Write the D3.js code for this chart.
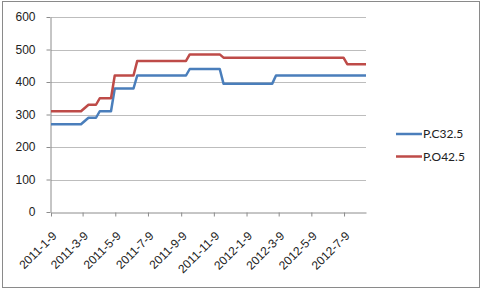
<!DOCTYPE html>
<html>
<head>
<meta charset="utf-8">
<script src="https://cdn.jsdelivr.net/npm/d3@7"></script>
<style>
  html, body { margin: 0; padding: 0; background: #fff; }
  svg { display: block; font-family: Lato, "Liberation Sans", sans-serif; }
  .grid line { stroke: #bdbdbd; stroke-width: 1; }
  .axis path, .axis line { stroke: #8c8c8c; }
  .axis text { fill: #222; font-size: 12px; }
  .series { fill: none; stroke-width: 2.5; stroke-linejoin: round; }
  .legend text { font-size: 12px; fill: #222; }
</style>
</head>
<body>
<svg id="chart" width="483" height="291"></svg>
<script>
(function () {
  "use strict";

  // dates where the price changes (corner points of the step lines)
  var dates = [
    "2011-1-9", "2011-3-6", "2011-3-20", "2011-4-3", "2011-4-10",
    "2011-5-1", "2011-5-8", "2011-6-12", "2011-6-19", "2011-9-18",
    "2011-9-25", "2011-11-20", "2011-11-27", "2012-2-26", "2012-3-4",
    "2012-7-8", "2012-7-15", "2012-8-19"
  ];
  var pc325 = [270, 270, 290, 290, 310, 310, 380, 380, 420, 420,
               440, 440, 395, 395, 420, 420, 420, 420];
  var po425 = [310, 310, 330, 330, 350, 350, 420, 420, 465, 465,
               485, 485, 475, 475, 475, 475, 455, 455];
  var seriesNames = ["P.C32.5", "P.O42.5"];
  var seriesColors = ["#4a7ebb", "#be4b48"];
  var tickLabels = [
    "2011-1-9", "2011-3-9", "2011-5-9", "2011-7-9", "2011-9-9",
    "2011-11-9", "2012-1-9", "2012-3-9", "2012-5-9", "2012-7-9"
  ];
  var yTicks = [0, 100, 200, 300, 400, 500, 600];

  var parse = d3.timeParse("%Y-%-m-%-d");
  var fmt = d3.timeFormat("%Y-%-m-%-d");

  var svg = d3.select("#chart");

  // chart area border
  svg.append("rect")
      .attr("x", 2.5)
      .attr("y", 1.5)
      .attr("width", 477)
      .attr("height", 286)
      .attr("fill", "#fff")
      .attr("stroke", "#8a8a8a");

  var x = d3.scaleTime()
      .domain([parse(dates[0]), parse(dates[dates.length - 1])])
      .range([51, 366]);
  var y = d3.scaleLinear()
      .domain([0, 600])
      .range([212, 17]);

  // horizontal gridlines
  svg.append("g")
      .attr("class", "grid")
    .selectAll("line")
      .data(yTicks.filter(function (d) { return d > 0; }))
    .enter().append("line")
      .attr("x1", x.range()[0])
      .attr("x2", x.range()[1])
      .attr("y1", function (d) { return Math.round(y(d)) + 0.5; })
      .attr("y2", function (d) { return Math.round(y(d)) + 0.5; });

  // y axis
  svg.append("g")
      .attr("class", "axis")
      .attr("transform", "translate(" + (x.range()[0] - 0.5) + ",0)")
      .call(d3.axisLeft(y).tickValues(yTicks).tickSize(4).tickSizeOuter(0).tickPadding(11));

  // x axis
  var xAxis = svg.append("g")
      .attr("class", "axis")
      .attr("transform", "translate(0," + (y(0) + 0.5) + ")")
      .call(d3.axisBottom(x)
        .tickValues(tickLabels.map(parse))
        .tickFormat(fmt)
        .tickSize(4)
        .tickSizeOuter(0));
  xAxis.selectAll("text")
      .attr("text-anchor", "end")
      .attr("dy", "0.35em")
      .attr("x", 0)
      .attr("y", 0)
      .attr("transform", "translate(3,21) rotate(-45)");

  // lines
  var line = d3.line()
      .x(function (d) { return x(d.date); })
      .y(function (d) { return y(d.value); });

  [pc325, po425].forEach(function (values, i) {
    var pts = values.map(function (v, j) {
      return { date: parse(dates[j]), value: v };
    });
    svg.append("path")
        .datum(pts)
        .attr("class", "series")
        .attr("stroke", seriesColors[i])
        .attr("d", line);
  });

  // legend
  var legend = svg.append("g")
      .attr("class", "legend")
    .selectAll("g")
      .data(seriesNames)
    .enter().append("g")
      .attr("transform", function (d, i) { return "translate(396," + (134 + i * 22.5) + ")"; });
  legend.append("line")
      .attr("x1", 0)
      .attr("x2", 26)
      .attr("stroke-width", 2.5)
      .attr("stroke", function (d, i) { return seriesColors[i]; });
  legend.append("text")
      .attr("x", 27)
      .attr("dy", "0.35em")
      .text(function (d) { return d; });
}());
</script>
</body>
</html>
